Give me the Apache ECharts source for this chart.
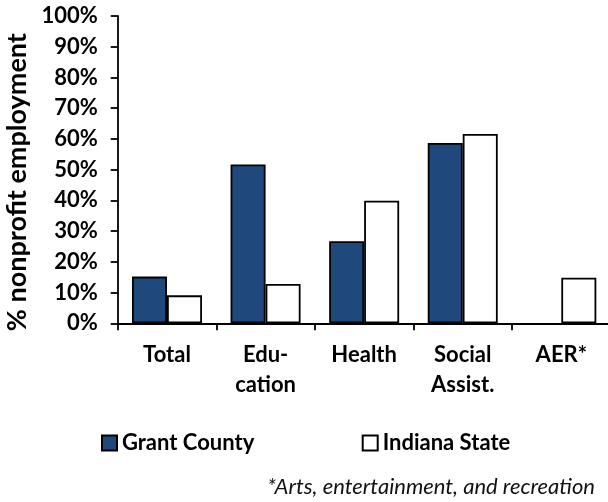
<!DOCTYPE html>
<html>
<head>
<meta charset="utf-8">
<script src="https://cdn.jsdelivr.net/npm/echarts@6/dist/echarts.min.js"></script>
<style>
html,body{margin:0;padding:0;background:#fff;overflow:hidden;}
#c{width:608px;height:502px;}
</style>
</head>
<body>
<div id="c"></div>
<script>
var categories = ['Total', 'Edu-\ncation', 'Health', 'Social\nAssist.', 'AER*'];
var grantCounty = [15.2, 51.7, 26.7, 58.7, null];
var indianaState = [9.1, 12.8, 39.9, 61.6, 14.8];
var yTicks = [0, 10, 20, 30, 40, 50, 60, 70, 80, 90, 100];
var footnote = '*Arts, entertainment, and recreation';

var FONT = 'Lato';
var chart = echarts.init(document.getElementById('c'), null, {renderer: 'canvas'});
chart.setOption({
  animation: false,
  backgroundColor: '#ffffff',
  textStyle: {fontFamily: FONT, color: '#000'},
  grid: {left: 117.7, top: 16, bottom: 178.7, right: -2.6, containLabel: false, outerBoundsMode: 'none'},
  title: {
    text: footnote,
    right: 13,
    top: 476,
    padding: 0,
    textStyle: {fontFamily: FONT, fontStyle: 'italic', fontWeight: 'normal', fontSize: 22, color: '#111'}
  },
  legend: [
    {
      data: ['Grant County'], left: 101, top: 431, padding: 0,
      itemWidth: 15, itemHeight: 15, icon: 'rect', itemGap: 0,
      textStyle: {fontFamily: FONT, fontWeight: 'bold', fontSize: 22, color: '#000', lineHeight: 24}
    },
    {
      data: ['Indiana State'], left: 361.7, top: 431, padding: 0,
      itemWidth: 15, itemHeight: 15, icon: 'rect', itemGap: 0,
      textStyle: {fontFamily: FONT, fontWeight: 'bold', fontSize: 22, color: '#000', lineHeight: 24}
    }
  ],
  xAxis: {
    type: 'category',
    data: categories,
    axisLine: {show: true, lineStyle: {color: '#000', width: 1.8}},
    axisTick: {show: true, length: 7, lineStyle: {color: '#000', width: 1.8}},
    axisLabel: {margin: 17, fontFamily: FONT, fontWeight: 'bold', fontSize: 22, lineHeight: 30, color: '#000', interval: 0}
  },
  yAxis: {
    type: 'value',
    min: 0, max: 100, interval: 10,
    name: '% nonprofit employment',
    nameLocation: 'middle',
    nameGap: 86,
    nameTextStyle: {fontFamily: FONT, fontWeight: 'bold', fontSize: 27, color: '#000', padding: [0, 25, 0, 0]},
    axisLine: {show: true, lineStyle: {color: '#000', width: 1.8}},
    axisTick: {show: true, length: 7, lineStyle: {color: '#000', width: 1.8}},
    splitLine: {show: false},
    axisLabel: {margin: 20, fontFamily: FONT, fontWeight: 'bold', fontSize: 22, color: '#000',
      formatter: function (v) { return yTicks.indexOf(v) >= 0 ? v + '%' : ''; }}
  },
  series: [
    {
      name: 'Grant County', type: 'bar', data: grantCounty,
      barWidth: 35, barGap: '0%',
      itemStyle: {color: '#1f497d', borderColor: '#000', borderWidth: 1.8}
    },
    {
      name: 'Indiana State', type: 'bar', data: indianaState,
      barWidth: 35, barGap: '0%',
      itemStyle: {color: '#ffffff', borderColor: '#000', borderWidth: 1.8}
    }
  ]
});
</script>
</body>
</html>
